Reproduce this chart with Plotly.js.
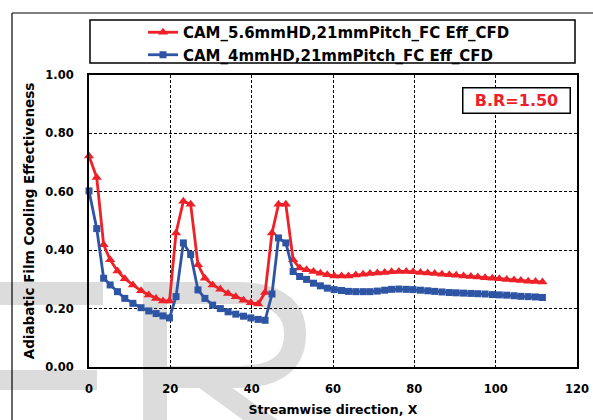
<!DOCTYPE html>
<html>
<head>
<meta charset="utf-8">
<script src="https://cdn.plot.ly/plotly-3.0.1.min.js"></script>
<style>html,body{margin:0;padding:0;background:#fff;}#chart{width:593px;height:420px;}</style>
</head>
<body>
<div id="chart"></div>
<script>
// Streamwise positions (shared by both series)
const xPos = [0, 1.9, 3.6, 5.2, 7.0, 8.8, 10.8, 12.8, 14.7, 16.5, 18.2, 19.8,
  21.4, 23.2, 25.0, 26.8, 28.5, 30.4, 32.3, 34.2, 36.1, 38.0, 39.8, 41.6,
  43.3, 45.0, 46.6, 48.4, 50.2, 51.8, 53.5, 55.2, 56.9, 58.6, 60.3, 62.1,
  63.8, 65.6, 67.4, 69.1, 70.9, 72.7, 74.4, 76.2, 78.0, 79.7, 81.5, 83.3,
  85.0, 86.8, 88.6, 90.3, 92.1, 93.9, 95.6, 97.4, 99.2, 100.9, 102.7, 104.5,
  106.2, 108.0, 109.8, 111.5];

// CAM_5.6mmHD,21mmPitch_FC Eff_CFD
const effHD56 = [0.723, 0.649, 0.419, 0.367, 0.329, 0.302, 0.281, 0.261, 0.247, 0.235, 0.226, 0.226,
  0.459, 0.568, 0.557, 0.350, 0.304, 0.281, 0.266, 0.252, 0.241, 0.229, 0.220, 0.216,
  0.255, 0.459, 0.557, 0.557, 0.367, 0.339, 0.333, 0.327, 0.321, 0.316, 0.312, 0.312,
  0.312, 0.315, 0.318, 0.320, 0.322, 0.324, 0.326, 0.327, 0.327, 0.326, 0.324, 0.322,
  0.320, 0.318, 0.316, 0.314, 0.312, 0.310, 0.308, 0.306, 0.304, 0.302, 0.300, 0.298,
  0.296, 0.294, 0.293, 0.291];

// CAM_4mmHD,21mmPitch_FC Eff_CFD
const effHD4 = [0.603, 0.474, 0.304, 0.281, 0.258, 0.235, 0.218, 0.203, 0.192, 0.183, 0.175, 0.168,
  0.241, 0.425, 0.385, 0.264, 0.235, 0.212, 0.200, 0.189, 0.181, 0.174, 0.168, 0.163,
  0.160, 0.250, 0.442, 0.425, 0.327, 0.310, 0.300, 0.287, 0.278, 0.270, 0.265, 0.262,
  0.259, 0.258, 0.258, 0.258, 0.260, 0.263, 0.266, 0.267, 0.266, 0.265, 0.263, 0.261,
  0.259, 0.257, 0.255, 0.254, 0.253, 0.252, 0.251, 0.250, 0.248, 0.247, 0.246, 0.244,
  0.242, 0.241, 0.240, 0.238];

const seriesNames = ["CAM_5.6mmHD,21mmPitch_FC Eff_CFD", "CAM_4mmHD,21mmPitch_FC Eff_CFD"];
const xTickVals = [0, 20, 40, 60, 80, 100, 120];
const yTickVals = [0, 0.2, 0.4, 0.6, 0.8, 1.0];
const yTickText = ["0.00", "0.20", "0.40", "0.60", "0.80", "1.00"];
const noteText = "B.R=1.50";
const xTitle = "Streamwise direction, X";
const yTitle = "Adiabatic Film Cooling Effectiveness";

// page geometry
const FW = 593, FH = 420;
const M = {l: 89, r: 16, t: 75, b: 53};
const PW = FW - M.l - M.r, PH = FH - M.t - M.b;
const px = v => (v - M.l) / PW;
const py = v => (FH - M.b - v) / PH;
const path = (cmds) => cmds.map(c => {
  const [op, ...nums] = c;
  const out = [];
  for (let i = 0; i < nums.length; i += 2) out.push(px(nums[i]).toFixed(5) + "," + py(nums[i + 1]).toFixed(5));
  return op + out.join(" ");
}).join(" ");

const FONT = "DejaVu Sans, Liberation Sans, Arial, sans-serif";
const RED = "rgb(238,32,40)";
const BLUE = "rgb(46,84,164)";
const GRAY = "#dcdcdc";

const traces = [
  {x: xPos, y: effHD56, name: seriesNames[0], type: "scatter", mode: "lines+markers",
   line: {color: RED, width: 2.8}, marker: {symbol: "triangle-up", size: 9, color: RED},
   cliponaxis: false},
  {x: xPos, y: effHD4, name: seriesNames[1], type: "scatter", mode: "lines+markers",
   line: {color: BLUE, width: 2.8}, marker: {symbol: "square", size: 7, color: BLUE},
   cliponaxis: false}
];

const wm = {type: "rect", xref: "paper", yref: "paper", layer: "below", fillcolor: GRAY, line: {width: 0}};
const shapes = [
  // watermark pieces
  Object.assign({}, wm, {x0: px(0), x1: px(103), y0: py(305), y1: py(282)}),
  Object.assign({}, wm, {x0: px(0), x1: px(97), y0: py(390), y1: py(370)}),
  Object.assign({}, wm, {x0: px(143), x1: px(167), y0: py(425), y1: py(282)}),
  {type: "path", xref: "paper", yref: "paper", layer: "below", line: {color: GRAY, width: 22},
   path: path([["M", 160, 293], ["L", 238, 293], ["C", 284, 293, 295, 314, 295, 334], ["C", 295, 356, 284, 377, 238, 377], ["L", 160, 377]])},
  {type: "path", xref: "paper", yref: "paper", layer: "below", fillcolor: GRAY, line: {width: 0},
   path: path([["M", 195, 385], ["L", 228, 385], ["L", 285, 425], ["L", 250, 425]]) + " Z"},
  // outer frame
  {type: "line", xref: "paper", yref: "paper", x0: px(12), x1: px(600), y0: py(13), y1: py(13), line: {color: "#000", width: 1.2}},
  {type: "line", xref: "paper", yref: "paper", x0: px(12), x1: px(12), y0: py(13), y1: py(430), line: {color: "#000", width: 1.2}},
  // legend box
  {type: "rect", xref: "paper", yref: "paper", x0: px(90), x1: px(575), y0: py(63), y1: py(20), line: {color: "#000", width: 1.5}, fillcolor: "rgba(0,0,0,0)"}
];

const layout = {
  width: FW, height: FH,
  margin: M,
  paper_bgcolor: "#fff",
  plot_bgcolor: "rgba(0,0,0,0)",
  font: {family: FONT, color: "#000", size: 12, weight: "bold"},
  showlegend: true,
  legend: {x: px(143), y: py(16), xanchor: "left", yanchor: "top", bgcolor: "rgba(0,0,0,0)",
    borderwidth: 0, font: {family: FONT, size: 15, color: "#000", weight: "bold"}, tracegroupgap: 0},
  xaxis: {range: [0, 120], tickvals: xTickVals, ticks: "", showline: true, linecolor: "#000", linewidth: 2,
    mirror: true, showgrid: true, gridcolor: "#000", gridwidth: 1, griddash: "3px,2px", zeroline: false,
    tickfont: {family: FONT, size: 11.5, weight: "bold"}, ticklabelstandoff: 10,
    title: {text: xTitle, font: {family: FONT, size: 12.5, weight: "bold"}, standoff: 10}},
  yaxis: {range: [0, 1], tickvals: yTickVals, ticktext: yTickText, ticks: "", showline: true, linecolor: "#000", linewidth: 2,
    mirror: true, showgrid: true, gridcolor: "#000", gridwidth: 1, griddash: "3px,2px", zeroline: false,
    tickfont: {family: FONT, size: 11.5, weight: "bold"}, ticklabelstandoff: 11,
    title: {text: yTitle, font: {family: FONT, size: 13.5, weight: "bold"}, standoff: 8}},
  annotations: [{xref: "paper", yref: "paper", x: px(516.5), y: py(100), xanchor: "center", yanchor: "middle",
    text: noteText, showarrow: false,
    font: {family: FONT, size: 16, color: RED, weight: "bold"}, bordercolor: "#000", borderwidth: 1.5,
    borderpad: 1, bgcolor: "#fff", width: 104, height: 22}],
  shapes: shapes
};

Plotly.newPlot("chart", traces, layout, {displayModeBar: false, staticPlot: true});
</script>
</body>
</html>
